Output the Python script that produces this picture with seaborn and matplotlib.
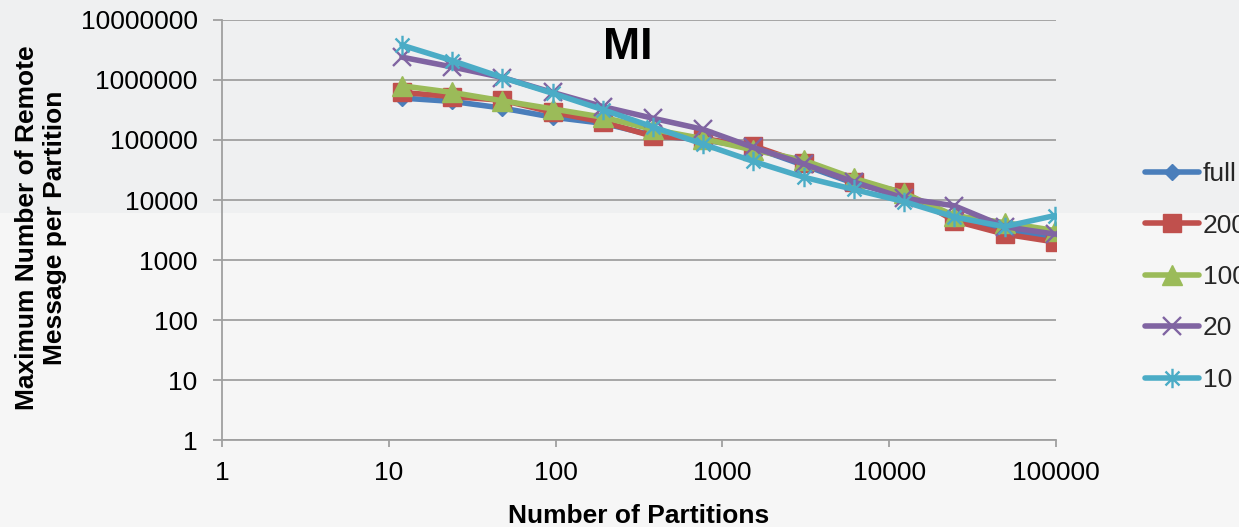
import matplotlib
matplotlib.use("Agg")
import matplotlib.pyplot as plt
from matplotlib.path import Path
from matplotlib.patches import Rectangle
from matplotlib.lines import Line2D
import seaborn as sns
import pandas as pd

# ---- data ----
partitions = [12, 24, 48, 96, 192, 384, 768, 1536, 3072, 6144, 12288, 24576, 49152, 98304]
full_vals = [5.0e5, 4.4e5, 3.4e5, 2.4e5, 1.9e5, 1.2e5, 1.0e5, 7.5e4, 3.8e4, 1.9e4, 1.2e4, 5.0e3, 3.2e3, 2.2e3]
s200_vals = [6.2e5, 5.3e5, 4.6e5, 2.9e5, 2.0e5, 1.15e5, 1.05e5, 8.0e4, 4.1e4, 2.0e4, 1.35e4, 4.5e3, 2.7e3, 2.0e3]
s100_vals = [8.0e5, 6.2e5, 4.5e5, 3.3e5, 2.4e5, 1.5e5, 1.05e5, 6.8e4, 4.6e4, 2.3e4, 1.3e4, 5.5e3, 4.2e3, 3.1e3]
s20_vals = [2.4e6, 1.65e6, 1.1e6, 6.2e5, 3.6e5, 2.3e5, 1.5e5, 7.5e4, 4.0e4, 2.0e4, 1.07e4, 8.0e3, 3.6e3, 2.7e3]
s10_vals = [3.8e6, 2.1e6, 1.1e6, 6.0e5, 3.2e5, 1.65e5, 8.5e4, 4.4e4, 2.4e4, 1.5e4, 9.4e3, 5.2e3, 3.6e3, 5.5e3]
series_names = ["full", "200", "100", "20", "10"]
series_values = [full_vals, s200_vals, s100_vals, s20_vals, s10_vals]

x_ticks = [1, 10, 100, 1000, 10000, 100000]
x_tick_labels = ["1", "10", "100", "1000", "10000", "100000"]
y_ticks = [1, 10, 100, 1000, 10000, 100000, 1000000, 10000000]
y_tick_labels = ["1", "10", "100", "1000", "10000", "100000", "1000000", "10000000"]

title = "MI"
x_label = "Number of Partitions"
y_label = "Maximum Number of Remote\nMessage per Partition"

# ---- style ----
sns.set_theme(style="white")
plt.rcParams["font.family"] = ["Liberation Sans", "DejaVu Sans"]

asterisk = Path(
    [(0, -1), (0, 1), (-0.72, -0.72), (0.72, 0.72), (-0.72, 0.72), (0.72, -0.72)],
    [Path.MOVETO, Path.LINETO, Path.MOVETO, Path.LINETO, Path.MOVETO, Path.LINETO],
)
styles = {
    "full": dict(color="#4a7ebb", marker="D", ms=8, mfc="#4a7ebb", mec="#4a7ebb", mew=1),
    "200": dict(color="#c0504d", marker="s", ms=13, mfc="#c0504d", mec="#c0504d", mew=1),
    "100": dict(color="#9bbb59", marker="^", ms=14, mfc="#9bbb59", mec="#9bbb59", mew=1),
    "20": dict(color="#8064a2", marker="x", ms=13, mfc="none", mec="#8064a2", mew=1.7),
    "10": dict(color="#4bacc6", marker=asterisk, ms=14, mfc="none", mec="#4bacc6", mew=1.7),
}

df = pd.DataFrame(
    [(p, v, name) for name, vals in zip(series_names, series_values) for p, v in zip(partitions, vals)],
    columns=["partitions", "value", "series"],
)

W, H = 1239, 527
fig = plt.figure(figsize=(W / 100, H / 100), dpi=100)
fig.patch.set_facecolor("#f6f6f6")
fig.patches.append(Rectangle((0, (H - 213) / H), 1, 213 / H, transform=fig.transFigure,
                             facecolor="#eff0f1", edgecolor="none", zorder=-10))

ax = fig.add_axes([222 / W, (H - 440) / H, 834 / W, 420 / H])
ax.set_facecolor("none")

for i, name in enumerate(series_names):
    st = styles[name]
    sub = df[df["series"] == name]
    sns.lineplot(data=sub, x="partitions", y="value", ax=ax, color=st["color"], lw=4.0,
                 marker=st["marker"], markersize=st["ms"], markerfacecolor=st["mfc"],
                 markeredgecolor=st["mec"], markeredgewidth=st["mew"],
                 solid_capstyle="round", solid_joinstyle="round",
                 legend=False, zorder=3 + i, errorbar=None)

ax.set_xscale("log")
ax.set_yscale("log")
ax.set_xlim(1, 100000)
ax.set_ylim(1, 10000000)
ax.set_xticks(x_ticks)
ax.set_xticklabels(x_tick_labels)
ax.set_yticks(y_ticks)
ax.set_yticklabels(y_tick_labels)
ax.minorticks_off()

gray = "#a0a0a0"
ax.yaxis.grid(True, color=gray, lw=1.3)
ax.xaxis.grid(False)
for s in ["top", "right"]:
    ax.spines[s].set_visible(False)
for s in ["left", "bottom"]:
    ax.spines[s].set_color(gray)
    ax.spines[s].set_linewidth(1.3)
ax.tick_params(axis="y", direction="out", length=6.5, width=1.3, color=gray, pad=11,
               labelsize=19, labelcolor="#000000", left=True)
ax.tick_params(axis="x", direction="out", length=5, width=1.3, color=gray, pad=10,
               labelsize=19, labelcolor="#000000", bottom=True)

ax.set_xlabel(x_label, fontsize=19, fontweight="bold", color="#000000")
ax.xaxis.set_label_coords(0.5, -0.152)
ax.set_ylabel(y_label, fontsize=19, fontweight="bold", color="#000000", multialignment="center")
ax.yaxis.set_label_coords(-0.186, 0.505)

ax.text(0.486, 0.935, title, transform=ax.transAxes, ha="center", va="center",
        fontsize=32, fontweight="bold", color="#000000")

handles = []
for name in series_names:
    st = styles[name]
    handles.append(Line2D([], [], color=st["color"], lw=4.0, marker=st["marker"],
                          markersize=st["ms"], markerfacecolor=st["mfc"],
                          markeredgecolor=st["mec"], markeredgewidth=st["mew"],
                          solid_capstyle="round"))
fig.legend(handles, series_names, loc="center left", bbox_to_anchor=(1145 / W, (H - 277) / H),
           frameon=False, fontsize=19, handlelength=2.05, handletextpad=0.15,
           labelspacing=1.04, borderpad=0, borderaxespad=0)

fig.savefig("out.png", dpi=100, facecolor=fig.get_facecolor())
